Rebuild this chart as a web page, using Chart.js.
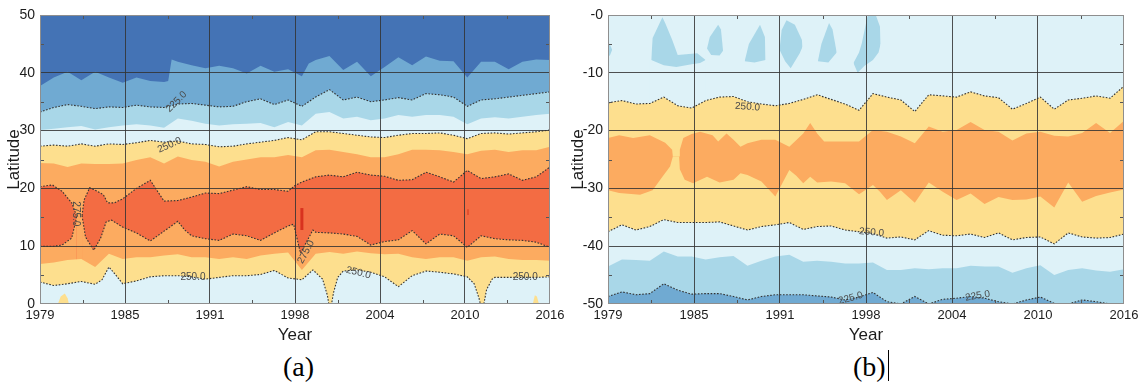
<!DOCTYPE html>
<html><head><meta charset="utf-8">
<script src="https://cdn.jsdelivr.net/npm/chart.js@4.4.1/dist/chart.umd.min.js"></script>
<style>
html,body{margin:0;padding:0;background:#fff}
body{width:1145px;height:382px;position:relative;overflow:hidden}
#ca{position:absolute;left:0;top:0}
#cb{position:absolute;left:570px;top:0}
.cap{position:absolute;top:350px;font-family:"Liberation Serif","Times New Roman",serif;font-size:28px;line-height:33px;color:#000}
#cursor{position:absolute;left:888px;top:350px;width:1px;height:31px;background:#000}
</style></head><body>
<canvas id="ca" width="570" height="350"></canvas>
<canvas id="cb" width="575" height="350"></canvas>
<div class="cap" style="left:283px">(a)</div>
<div class="cap" style="left:853px">(b)</div>
<div id="cursor"></div>
<script>
// ---------- data ----------
const YEARS = [1979,1980,1981,1982,1983,1984,1985,1986,1987,1988,1989,1990,1991,1992,1993,1994,1995,1996,1997,1998,1999,2000,2001,2002,2003,2004,2005,2006,2007,2008,2009,2010,2011,2012,2013,2014,2015,2016];
const X_TICK_POS = [1979,1985.1667,1991.3333,1997.5,2003.6667,2009.8333,2016];
const X_TICK_LABELS = ['1979','1985','1991','1998','2004','2010','2016'];
const Y_TICKS_A = [0,10,20,30,40,50];
const Y_LABELS_A = ['0','10','20','30','40','50'];
const Y_TICKS_B = [-50,-40,-30,-20,-10,0];
const Y_LABELS_B = ['-50','-40','-30','-20','-10','-0'];

// panel (a) boundaries (latitude)
const A_B1_X = [1979,1980,1981,1982,1983,1984,1985,1986,1987,1988,1988.3,1988.55,1989,1990,1991,1992,1993,1994,1995,1996,1997,1998,1998.5,1999,2000,2001,2002,2003,2004,2005,2006,2007,2008,2009,2010,2011,2012,2013,2014,2015,2016];
const A_B1 = [37.7,39.2,40.2,38.7,40.2,39.2,38.3,39.2,38.6,38.4,38.6,42.3,41.9,41.3,40.8,41.2,40.8,39.9,41.2,40.2,40.6,39.4,41.6,42.2,42.9,40.5,41.9,39.4,41.0,42.7,41.3,42.8,42.1,42.0,39.2,41.9,41.9,40.6,41.9,42.3,42.2];
const A_225 = [33.2,34.0,34.5,34.2,33.8,34.1,34.0,34.4,34.1,34.0,34.6,34.7,34.4,34.1,34.2,35.0,35.5,34.5,35.3,34.2,35.8,37.1,35.3,35.8,35.0,35.3,35.7,35.3,36.4,36.2,35.8,34.2,35.3,35.5,35.8,36.1,36.4,36.7];
const A_B3 = [30.1,30.3,30.6,30.8,30.2,30.6,30.9,31.1,30.9,30.5,32.1,31.7,31.2,30.9,31.1,31.2,31.3,30.6,31.5,30.9,32.9,33.2,32.1,32.4,31.8,32.1,32.7,32.4,32.7,32.7,32.4,31.1,32.1,32.3,32.1,32.4,32.7,32.9];
const A_250_UP = [27.3,27.5,27.3,27.7,27.3,27.7,27.6,27.9,28.3,28.0,28.2,27.7,27.6,27.2,27.3,27.7,28.0,28.3,28.8,28.4,29.8,29.8,29.5,29.2,28.9,28.8,29.2,29.5,29.5,29.6,29.2,28.6,29.5,29.6,29.4,29.6,29.8,30.1];
const A_B5 = [24.4,24.3,23.7,24.3,24.2,24.2,24.3,24.9,25.4,24.3,25.5,24.9,24.6,23.8,24.6,25.0,25.4,25.4,25.8,25.4,26.6,26.7,26.3,25.9,25.4,25.4,25.9,26.7,26.7,26.6,26.3,25.9,26.5,26.7,26.3,26.6,26.6,27.2];
const A_275_TOP_X = [1979,1979.9,1980.6,1981.3,1981.6,1981.65,1982.05,1982.2,1982.6,1983,1983.6,1983.9,1984.4,1985,1986,1987,1988,1989,1990,1991,1992,1993,1994,1995,1996,1997,1997.5,1998,1999,2000,2001,2002,2003,2004,2005,2006,2007,2008,2009,2010,2011,2012,2013,2014,2015,2016];
const A_275_TOP = [20.3,20.6,19.5,17.5,15.6,15.1,15.3,18.0,20.1,19.7,18.9,17.5,17.5,18.2,20.0,21.4,17.8,17.9,18.5,19.2,19.1,19.7,20.3,19.8,19.8,19.5,20.5,21.1,22.0,22.3,22.0,22.8,22.3,22.1,21.4,21.5,22.8,22.0,21.1,23.1,21.7,22.0,22.5,21.4,22.0,23.7];
const A_275_BOT_X = [1979,1980,1980.6,1981.3,1981.6,1981.65,1982.05,1982.3,1982.9,1983.4,1983.8,1984.2,1985,1986,1987,1988,1989,1989.5,1990,1991,1992,1993,1994,1995,1996,1997,1997.4,1997.9,1998.8,1999,2000,2001,2002,2003,2004,2005,2006,2007,2008,2009,2010,2011,2012,2013,2014,2015,2016];
const A_275_BOT = [10.0,10.0,10.2,11.4,14.4,15.1,15.3,11.6,9.3,11.4,14.2,14.5,13.3,12.3,10.9,12.6,14.3,12.8,11.8,11.3,11.0,12.1,11.8,11.0,12.3,13.5,13.8,8.8,12.8,12.4,12.3,12.1,11.7,10.2,10.8,11.1,12.7,10.4,12.1,11.8,9.8,11.8,11.3,11.1,11.0,10.7,9.8];
const A_B8 = [6.9,7.2,7.6,7.8,6.4,8.7,7.8,8.1,8.1,8.4,8.6,8.1,8.1,7.8,8.1,7.8,8.4,8.7,8.9,5.9,8.7,9.0,8.7,9.1,8.8,8.6,8.7,8.1,7.8,8.1,8.1,7.5,8.1,8.2,7.8,7.6,7.6,7.5];
const A_250_LOW_X = [1979,1980,1981,1982,1983,1983.5,1984,1984.5,1985,1986,1987,1988,1989,1990,1991,1992,1993,1994,1995,1996,1997,1998,1998.8,1999.5,1999.85,1999.95,2000.15,2000.3,2000.6,2001,2002,2003,2004,2005,2006,2007,2008,2009,2010,2010.5,2010.85,2010.95,2011.2,2011.4,2011.8,2012,2013,2014,2015,2016];
const A_250_LOW = [3.8,3.2,3.5,3.9,3.4,4.2,6.4,5.0,3.5,4.0,4.7,4.9,4.9,4.7,4.3,4.6,4.9,4.9,5.1,5.8,4.5,4.2,5.9,4.3,1.5,0,0,2.0,4.6,5.7,5.9,5.5,4.7,3.0,4.9,5.7,5.5,5.2,4.7,3.5,1.0,0,0,2.5,4.3,4.6,4.6,4.6,4.6,4.7];
const A_SPOT1_X = [1980.3,1980.5,1980.8,1981.0,1981.1];
const A_SPOT1 = [0,1.3,1.8,1.0,0];
const A_SPOT2_X = [2014.75,2014.9,2015.05,2015.2];
const A_SPOT2 = [0,1.5,1.3,0];
const A_STREAK1_X = [1998.0,1998.0];
const A_STREAK1 = [12.8,16.6];
const A_STREAK2_X = [2010.05,2010.05];
const A_STREAK2 = [15.4,16.4];

// panel (b) boundaries
const B_250_UP = [-15.2,-14.8,-15.4,-15.3,-14.2,-15.7,-16.1,-14.8,-14.2,-14.1,-15.0,-15.4,-15.7,-15.3,-14.6,-13.8,-14.6,-15.4,-16.5,-13.6,-14.2,-14.7,-16.7,-13.8,-14.0,-14.2,-13.3,-14.0,-14.3,-16.3,-15.3,-14.2,-16.3,-14.7,-14.4,-14.0,-14.4,-12.3];
const B_OR_TOP_X = [1979,1979.8,1980.8,1982,1983.1,1983.6,1983.65,1984.1,1984.15,1984.4,1985,1985.6,1986.5,1986.9,1987.5,1988,1988.5,1989,1990,1991,1992,1993,1993.5,1994,1994.5,1995,1996,1997,1998,1999,2000,2001,2002,2003,2004,2005,2006,2007,2008,2009,2010,2011,2012,2013,2014,2015,2016];
const B_OR_TOP = [-21.3,-20.8,-21.3,-20.8,-22.1,-23.3,-24.5,-24.5,-23.3,-21.3,-20.6,-20.2,-20.8,-21.9,-20.5,-21.6,-22.8,-22.2,-21.6,-21.6,-22.8,-20.5,-18.7,-20.5,-21.9,-21.9,-21.9,-21.9,-19.9,-20.2,-21.0,-22.2,-19.3,-20.2,-19.9,-18.5,-19.9,-20.2,-21.7,-20.5,-20.2,-20.9,-21.0,-20.4,-18.7,-20.4,-18.3];
const B_OR_BOT_X = [1979,1979.8,1981.3,1982.2,1982.9,1983.45,1983.65,1984.1,1984.15,1984.5,1985.1,1986.1,1987,1988,1988.5,1989,1990,1991,1991.5,1992,1992.5,1993,1993.5,1994,1995,1996,1997,1998,1998.5,1999,2000,2001,2002,2003,2004,2005,2006,2007,2008,2009,2010,2011,2012,2013,2014,2015,2016];
const B_OR_BOT = [-30.3,-30.8,-31.1,-30.3,-28.0,-26.2,-24.5,-24.5,-26.7,-28.5,-29.1,-28.0,-29.0,-28.5,-27.4,-27.7,-28.8,-31.4,-29.1,-26.8,-27.8,-29.1,-28.0,-29.0,-28.8,-29.1,-31.0,-29.4,-30.6,-32.0,-30.3,-32.5,-29.0,-30.6,-32.0,-30.9,-32.7,-31.5,-32.0,-31.9,-31.4,-33.3,-29.0,-32.3,-31.3,-30.7,-30.2];
const B_250_LOW = [-37.5,-36.3,-37.2,-36.6,-35.4,-35.9,-35.9,-35.9,-35.8,-36.5,-37.2,-36.6,-36.3,-35.9,-37.1,-36.6,-36.5,-37.2,-37.5,-37.8,-38.6,-38.4,-38.9,-37.3,-38.1,-38.2,-37.9,-38.5,-37.7,-38.9,-38.5,-38.4,-39.6,-37.7,-38.4,-38.6,-38.5,-37.9];
const B_B5 = [-43.5,-42.3,-42.4,-42.5,-40.9,-41.8,-41.8,-42.3,-41.9,-41.7,-43.4,-42.5,-41.8,-41.5,-42.7,-42.5,-42.7,-43.0,-43.0,-42.8,-44.1,-44.1,-43.8,-44.0,-43.8,-43.8,-43.4,-43.5,-43.5,-44.6,-43.8,-43.3,-45.0,-44.1,-43.8,-44.2,-44.4,-44.0];
const B_225 = [-48.7,-47.9,-48.4,-48.2,-46.5,-47.6,-48.3,-48.2,-48.2,-48.7,-49.3,-48.7,-48.4,-48.4,-48.4,-48.6,-48.8,-49.3,-48.8,-48.0,-49.6,-50.0,-48.7,-50.0,-49.2,-49.0,-48.7,-49.0,-49.6,-50.0,-49.3,-48.8,-49.9,-50.0,-49.3,-49.6,-50.0,-50.0];
// light-blue patches near the equator in (b): top edge / bottom edge
const BLOB_A = {ux:[1979,1979.15,1979.3], uy:[-4.7,-5.2,-6.0], lx:[1979,1979.15,1979.3], ly:[-7.3,-6.9,-6.0]};
const BLOB_B = {ux:[1982.1,1982.2,1982.9,1983.1,1983.6,1984.0,1985.0,1985.4,1986.0], uy:[-7.8,-4.0,-0.4,-1.4,-4.3,-6.9,-6.7,-6.6,-7.8], lx:[1982.1,1983.0,1983.9,1985.0,1985.6,1986.0], ly:[-7.8,-8.7,-9.0,-8.5,-8.3,-7.8]};
const BLOB_C = {ux:[1986.1,1986.3,1986.9,1987.1,1987.25], uy:[-5.8,-3.8,-1.7,-2.5,-6.2], lx:[1986.1,1986.4,1987.0,1987.25], ly:[-5.8,-6.9,-7.0,-6.2]};
const BLOB_D = {ux:[1988.8,1989.1,1989.9,1990.25,1990.3], uy:[-8.0,-5.0,-1.7,-3.8,-7.8], lx:[1988.8,1989.5,1990.3], ly:[-8.0,-8.2,-7.8]};
const BLOB_E = {ux:[1991.3,1991.45,1991.8,1992.4,1992.9,1992.95], uy:[-6.0,-2.6,-0.9,-1.7,-4.3,-5.5], lx:[1991.3,1991.7,1992.1,1992.75,1992.95], ly:[-6.0,-8.0,-9.2,-6.6,-5.5]};
const BLOB_F = {ux:[1994.05,1994.3,1994.85,1995.1,1995.4], uy:[-8.0,-5.0,-1.4,-2.5,-6.5], lx:[1994.05,1994.8,1995.4], ly:[-8.0,-8.2,-6.5]};
const BLOB_G = {ux:[1996.6,1997.0,1997.2,1997.6,1997.7,1998.2,1998.5,1998.55], uy:[-8.3,-6.5,-4.9,-0.3,0,0,-2.0,-5.0], lx:[1996.6,1996.9,1997.4,1998.0,1998.4,1998.55], ly:[-8.3,-10.0,-8.8,-7.8,-6.5,-5.0]};

const A_LABELS = [
  {t:'225.0', x:1988.9, y:35.0, r:-45},
  {t:'250.0', x:1988.4, y:27.5, r:-24},
  {t:'275.0', x:1981.6, y:15.6, r:90},
  {t:'250.0', x:1990.1, y:4.7, r:0},
  {t:'275.0', x:1998.3, y:9.0, r:-62},
  {t:'250.0', x:2002.1, y:5.4, r:14},
  {t:'250.0', x:2014.2, y:4.7, r:0}
];
const B_LABELS = [
  {t:'250.0', x:1989.0, y:-15.9, r:4},
  {t:'225.0', x:1996.4, y:-49.0, r:-15},
  {t:'250.0', x:1997.9, y:-37.6, r:5},
  {t:'225.0', x:2005.5, y:-48.6, r:-10}
];

// ---------- colours ----------
const C_DBLUE = '#4473b5', C_MBLUE = '#70aad2', C_LBLUE = '#a9d7e8', C_VLBLUE = '#def2f8',
      C_YEL = '#fddf8e', C_ORA = '#fcab60', C_RED = '#f36c43';
const CONTOUR = '#333333';
const NONE = 'rgba(0,0,0,0)';

function pts(xs, ys) { return xs.map((x, i) => ({x: x, y: ys[i]})); }
function band(data, color, order, contour, hideFrom, hideTo) {
  const ds = {
    data: data, backgroundColor: color, fill: 'start', order: order,
    borderColor: contour ? CONTOUR : NONE, borderWidth: contour ? 1.1 : 0,
    borderDash: contour ? [1.6, 1.6] : [], pointRadius: 0, tension: 0
  };
  if (hideFrom !== undefined) {
    ds.segment = { borderColor: c => (c.p0.parsed.x >= hideFrom - 1e-6 && c.p1.parsed.x <= hideTo + 1e-6) ? NONE : CONTOUR };
  }
  return ds;
}
// the covering (background-coloured) edge of a patch is widened a hair so no seam shows
function padEnds(data) {
  const a = data[0], b = data[data.length - 1];
  return [{x: a.x - 0.1, y: a.y}].concat(data, [{x: b.x + 0.1, y: b.y}]);
}
function streak(xs, ys, color, w) {
  return { data: pts(xs, ys), borderColor: color, borderWidth: w, fill: false, pointRadius: 0, order: 0 };
}

const deco = {
  id: 'deco',
  beforeDraw(chart, args, o) {
    const {ctx, chartArea: a} = chart;
    ctx.save(); ctx.fillStyle = o.bg; ctx.fillRect(a.left, a.top, a.width, a.height); ctx.restore();
  },
  afterDatasetsDraw(chart, args, o) {
    const {ctx, scales: {x, y}} = chart;
    ctx.save();
    ctx.font = '10px "Liberation Sans", Arial, sans-serif';
    ctx.fillStyle = '#4a4a4a'; ctx.textAlign = 'center'; ctx.textBaseline = 'middle';
    for (const L of o.labels) {
      ctx.save();
      ctx.translate(x.getPixelForValue(L.x), y.getPixelForValue(L.y));
      ctx.rotate(L.r * Math.PI / 180);
      ctx.fillText(L.t, 0, 0);
      ctx.restore();
    }
    ctx.restore();
  },
  afterDraw(chart, args, o) {
    const {ctx, chartArea: a, scales: {x, y}} = chart;
    ctx.save();
    ctx.strokeStyle = '#555'; ctx.lineWidth = 1;
    ctx.beginPath();
    for (let i = 0; i < X_TICK_POS.length - 1; i++) {
      const px = Math.round(x.getPixelForValue((X_TICK_POS[i] + X_TICK_POS[i + 1]) / 2)) + 0.5;
      ctx.moveTo(px, a.top); ctx.lineTo(px, a.top + 4);
      ctx.moveTo(px, a.bottom); ctx.lineTo(px, a.bottom - 4);
    }
    const yt = o.yticks;
    for (let i = 0; i < yt.length - 1; i++) {
      const py = Math.round(y.getPixelForValue((yt[i] + yt[i + 1]) / 2)) + 0.5;
      ctx.moveTo(a.right, py); ctx.lineTo(a.right - 4, py);
      ctx.moveTo(a.left, py); ctx.lineTo(a.left + 4, py);
    }
    ctx.stroke();
    ctx.strokeStyle = '#8e8e8e';
    ctx.strokeRect(Math.round(a.left) + 0.5, Math.round(a.top) + 0.5, Math.round(a.width) - 1, Math.round(a.height) - 1);
    ctx.restore();
  }
};

const FONT = '"Liberation Sans", Arial, sans-serif';
const GRID = 'rgba(50,50,50,0.85)';
function gridColor(c) { const n = c.scale.ticks.length; return (c.index === 0 || c.index === n - 1) ? NONE : GRID; }

function makeOptions(yTicks, yLabels, yWidth, yTitlePad, padRight, bg, labels) {
  return {
    responsive: false, animation: false, devicePixelRatio: 1,
    layout: { padding: { top: 15, right: padRight, left: 0, bottom: 0 } },
    plugins: { legend: { display: false }, tooltip: { enabled: false }, deco: { bg: bg, labels: labels, yticks: yTicks } },
    scales: {
      x: {
        type: 'linear', min: 1979, max: 2016,
        afterBuildTicks: s => { s.ticks = X_TICK_POS.map(v => ({value: v})); },
        ticks: { callback: (v, i) => X_TICK_LABELS[i], autoSkip: false, maxRotation: 0, minRotation: 0, padding: 4, color: '#1c1c1c', font: { family: FONT, size: 13 } },
        grid: { color: gridColor, lineWidth: 1, drawTicks: false, z: 1 },
        border: { display: false },
        title: { display: true, text: 'Year', color: '#1c1c1c', font: { family: FONT, size: 17, lineHeight: 1 }, padding: { top: 0, bottom: 6 } },
        afterFit: s => { s.height = 46; }
      },
      y: {
        type: 'linear', min: yTicks[0], max: yTicks[yTicks.length - 1],
        afterBuildTicks: s => { s.ticks = yTicks.map(v => ({value: v})); },
        ticks: { callback: (v, i) => yLabels[i], autoSkip: false, padding: 5, color: '#1c1c1c', font: { family: FONT, size: 14 } },
        grid: { color: gridColor, lineWidth: 1, drawTicks: false, z: 1 },
        border: { display: false },
        title: { display: true, text: 'Latitude', color: '#1c1c1c', font: { family: FONT, size: 17, lineHeight: 1 }, padding: { top: yTitlePad, bottom: 0 } },
        afterFit: s => { s.width = yWidth; }
      }
    }
  };
}

// ---------- panel (a) ----------
const dsA = [
  band(pts(A_B1_X, A_B1), C_MBLUE, 20, false),
  band(pts(YEARS, A_225), C_LBLUE, 19, true),
  band(pts(YEARS, A_B3), C_VLBLUE, 18, false),
  band(pts(YEARS, A_250_UP), C_YEL, 17, true),
  band(pts(YEARS, A_B5), C_ORA, 16, false),
  band(pts(A_275_TOP_X, A_275_TOP), C_RED, 15, true, 1981.65, 1982.05),
  band(pts(A_275_BOT_X, A_275_BOT), C_ORA, 14, true, 1981.65, 1982.05),
  band(pts(YEARS, A_B8), C_YEL, 13, false),
  band(pts(A_250_LOW_X, A_250_LOW), C_VLBLUE, 12, true),
  band(pts(A_SPOT1_X, A_SPOT1), C_YEL, 11, false),
  band(pts(A_SPOT2_X, A_SPOT2), C_YEL, 10, false),
  streak(A_STREAK1_X, A_STREAK1, '#d8321f', 3),
  streak(A_STREAK2_X, A_STREAK2, '#e4502f', 2)
];
new Chart(document.getElementById('ca'), {
  type: 'line', data: { datasets: dsA },
  options: makeOptions(Y_TICKS_A, Y_LABELS_A, 40, 6, 20, C_DBLUE, A_LABELS),
  plugins: [deco]
});

// ---------- panel (b) ----------
const blobs = [BLOB_A, BLOB_B, BLOB_C, BLOB_D, BLOB_E, BLOB_F, BLOB_G];
const dsB = [];
blobs.forEach((b, i) => {
  dsB.push(band(pts(b.ux, b.uy), C_LBLUE, 60 - 2 * i, false));
  dsB.push(band(padEnds(pts(b.lx, b.ly)), C_VLBLUE, 59 - 2 * i, false));
});
dsB.push(
  band(pts(YEARS, B_250_UP), C_YEL, 20, true),
  band(pts(B_OR_TOP_X, B_OR_TOP), C_ORA, 19, false),
  band(pts(B_OR_BOT_X, B_OR_BOT), C_YEL, 18, false),
  band(pts(YEARS, B_250_LOW), C_VLBLUE, 17, true),
  band(pts(YEARS, B_B5), C_LBLUE, 16, false),
  band(pts(YEARS, B_225), C_MBLUE, 15, true)
);
new Chart(document.getElementById('cb'), {
  type: 'line', data: { datasets: dsB },
  options: makeOptions(Y_TICKS_B, Y_LABELS_B, 38, 0, 21, C_VLBLUE, B_LABELS),
  plugins: [deco]
});
</script>
</body></html>
